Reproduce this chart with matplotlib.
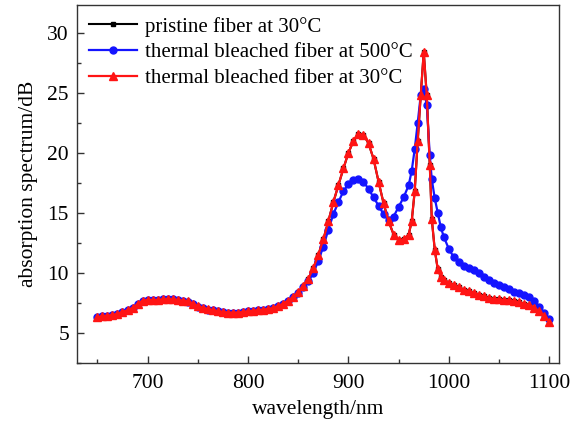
import matplotlib
matplotlib.use("Agg")
import matplotlib.pyplot as plt
from matplotlib.ticker import MultipleLocator

plt.rcParams['font.family'] = ['Liberation Serif', 'DejaVu Serif']

# wavelength grid (nm)
wavelength = [650, 655, 660, 665, 670, 675, 680, 685, 690, 695,
              700, 705, 710, 715, 720, 725, 730, 735, 740, 745,
              750, 755, 760, 765, 770, 775, 780, 785, 790, 795,
              800, 805, 810, 815, 820, 825, 830, 835, 840, 845,
              850, 855, 860, 865, 870, 875, 880, 885, 890, 895,
              900, 905, 910, 915, 920, 925, 930, 935, 940, 945,
              950, 955,
              960, 963, 966, 969, 972, 975, 978, 981, 983, 986, 989, 992, 995,
              1000, 1005, 1010, 1015, 1020, 1025, 1030, 1035, 1040, 1045,
              1050, 1055, 1060, 1065, 1070, 1075, 1080, 1085, 1090, 1095, 1100]

# thermal bleached fiber measured at 30 C
bleached_30 = [6.3, 6.4, 6.45, 6.5, 6.6, 6.75, 6.9, 7.1, 7.4, 7.7,
               7.75, 7.75, 7.75, 7.8, 7.8, 7.8, 7.75, 7.7, 7.65, 7.45,
               7.25, 7.1, 7.0, 6.9, 6.8, 6.75, 6.7, 6.7, 6.7, 6.75,
               6.8, 6.85, 6.9, 6.95, 7.0, 7.1, 7.25, 7.45, 7.7, 8.0,
               8.4, 8.9, 9.5, 10.4, 11.5, 12.8, 14.3, 15.9, 17.3, 18.7,
               20.0, 21.0, 21.6, 21.5, 20.8, 19.5, 17.6, 15.8, 14.3, 13.2,
               12.75, 12.8,
               13.2, 14.3, 16.8, 21.0, 24.8, 28.4, 24.8, 19.0, 14.5, 11.9, 10.3, 9.7, 9.4,
               9.2, 9.0, 8.8, 8.6, 8.5, 8.35, 8.2, 8.05, 7.9, 7.85,
               7.8, 7.75, 7.75, 7.65, 7.55, 7.45, 7.35, 7.1, 6.8, 6.4, 5.95]

# pristine fiber at 30 C (coincides with the bleached one)
pristine_30 = [6.3, 6.4, 6.45, 6.5, 6.6, 6.75, 6.9, 7.1, 7.4, 7.7,
               7.75, 7.75, 7.75, 7.8, 7.8, 7.8, 7.75, 7.7, 7.65, 7.45,
               7.25, 7.1, 7.0, 6.9, 6.8, 6.75, 6.7, 6.7, 6.7, 6.75,
               6.8, 6.85, 6.9, 6.95, 7.0, 7.1, 7.25, 7.45, 7.7, 8.0,
               8.4, 8.9, 9.5, 10.4, 11.5, 12.8, 14.3, 15.9, 17.3, 18.7,
               20.0, 21.0, 21.6, 21.5, 20.8, 19.5, 17.6, 15.8, 14.3, 13.2,
               12.75, 12.8,
               13.2, 14.3, 16.8, 21.0, 24.8, 28.4, 24.8, 19.0, 14.5, 11.9, 10.3, 9.7, 9.4,
               9.2, 9.0, 8.8, 8.6, 8.5, 8.35, 8.2, 8.05, 7.9, 7.85,
               7.8, 7.75, 7.75, 7.65, 7.55, 7.45, 7.35, 7.1, 6.8, 6.4, 5.95]

# thermal bleached fiber measured at 500 C
bleached_500 = [6.3, 6.4, 6.45, 6.5, 6.6, 6.75, 6.9, 7.1, 7.4, 7.7,
                7.75, 7.75, 7.75, 7.8, 7.8, 7.8, 7.75, 7.7, 7.6, 7.4,
                7.2, 7.05, 6.95, 6.9, 6.8, 6.75, 6.7, 6.7, 6.7, 6.75,
                6.8, 6.85, 6.9, 6.95, 7.0, 7.1, 7.25, 7.45, 7.7, 8.0,
                8.35, 8.8, 9.3, 10.0, 11.0, 12.2, 13.6, 14.9, 15.9, 16.8,
                17.4, 17.75, 17.8, 17.6, 17.0, 16.3, 15.6, 14.9, 14.4, 14.7,
                15.5, 16.3,
                17.3, 18.5, 20.3, 22.5, 24.8, 25.3, 24.0, 19.8, 17.8, 16.2, 15.0, 13.8, 13.0,
                12.0, 11.3, 10.9, 10.6, 10.45, 10.25, 10.0, 9.7, 9.45, 9.2,
                9.0, 8.8, 8.65, 8.45, 8.3, 8.2, 8.0, 7.7, 7.2, 6.7, 6.2]

labels = ["pristine fiber at 30\u00b0C",
          "thermal bleached fiber at 500\u00b0C",
          "thermal bleached fiber at 30\u00b0C"]

fig = plt.figure(figsize=(5.8, 4.29), dpi=100)
ax = fig.add_axes([0.1333, 0.1538, 0.8310, 0.8342])

ax.plot(wavelength, pristine_30, color="black", marker="s", ms=3, lw=1.5, label=labels[0])
ax.plot(wavelength, bleached_500, color="#1414ff", marker="o", ms=5, lw=1.6, label=labels[1])
ax.plot(wavelength, bleached_30, color="#ff1414", marker="^", ms=5.5, lw=1.6, label=labels[2])

ax.set_xlim(630, 1110)
ax.set_ylim(2.5, 32.3)
ax.xaxis.set_major_locator(MultipleLocator(100))
ax.xaxis.set_minor_locator(MultipleLocator(50))
ax.yaxis.set_major_locator(MultipleLocator(5))
ax.yaxis.set_minor_locator(MultipleLocator(2.5))
ax.tick_params(which="both", direction="in", labelsize=15.5, color="#333333")
ax.tick_params(axis="x", which="major", pad=8)
ax.tick_params(axis="y", which="major", pad=6)
ax.tick_params(which="major", length=5, width=1)
ax.tick_params(which="minor", length=3, width=1)
for s in ax.spines.values():
    s.set_color("#333333")
    s.set_linewidth(1.0)

ax.set_xlabel("wavelength/nm", fontsize=15.5, labelpad=5)
ax.set_ylabel("absorption spectrum/dB", fontsize=15.5, labelpad=7)

ax.legend(loc="upper left", frameon=False, fontsize=15, handlelength=2.3,
          labelspacing=0.3, borderaxespad=0.2, handletextpad=0.4, borderpad=0.35)

fig.savefig("out.png", dpi=100)
